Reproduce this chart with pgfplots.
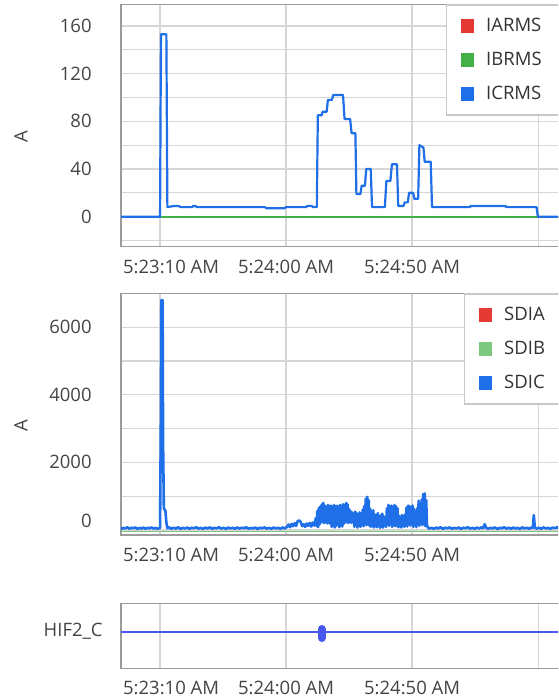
\documentclass[border=0pt]{standalone}
\usepackage{fontspec}
\setmainfont{Open Sans}
\usepackage{pgfplots}
\pgfplotsset{compat=1.18}
\definecolor{seriesblue}{RGB}{30,111,232}
\definecolor{seriesred}{RGB}{229,57,53}
\definecolor{seriesgreen}{RGB}{67,176,71}
\definecolor{hifblue}{RGB}{72,88,238}
\definecolor{gridgray}{RGB}{214,214,214}
\definecolor{framegray}{RGB}{155,155,155}
\definecolor{legendgray}{RGB}{200,200,200}
\definecolor{textgray}{RGB}{68,68,68}
\definecolor{textdark}{RGB}{51,51,51}
\newcommand{\fs}{\fontsize{9.25pt}{11pt}\selectfont}
\pgfplotsset{
  panel/.style={
    scale only axis, width=227.45pt, xmin=-15.5, xmax=165,
    xtick={0,50,100,150},
    xticklabels={\hspace*{11pt}5:23:10 AM,5:24:00 AM,5:24:50 AM,{}},
    xmajorgrids, major tick length=0pt, minor tick length=0pt,
    axis line style={draw=framegray,line width=0.75pt},
    grid style={draw=gridgray,line width=0.6pt},
    minor grid style={draw=gridgray,line width=0.6pt},
    tick label style={font=\fs, text=textgray},
    xticklabel style={anchor=center, yshift=-10pt, inner sep=0pt},
    yticklabel style={anchor=east, inner sep=0pt, xshift=-14.5pt},
    /pgf/number format/assume math mode=true,
    scaled ticks=false,
    every axis y label/.style={at={(rel axis cs:-0.22,0.454)}, anchor=center, rotate=90, font=\fs, text=textgray},
    legend cell align=left,
    legend image code/.code={
      \path[draw=none,fill=none] (0pt,-8.5pt) rectangle (0pt,8.5pt);
      \fill[##1,draw=none] (7pt,-3.4pt) rectangle (13.8pt,3.4pt);
    },
    every axis plot/.append style={line join=round},
  },
  legbox/.style={legend style={at={(rel axis cs:#1,1)}, anchor=north west,
    draw=legendgray, line width=0.6pt, fill=white, inner xsep=0pt, inner ysep=2pt,
    row sep=0pt, column sep=6pt, font=\fs, nodes={inner sep=0pt, text=textdark}}},
}
\begin{document}
\begin{tikzpicture}
\useasboundingbox (0,0) rectangle (279pt,-350pt);
\clip (0,0) rectangle (279pt,-350pt);
% ---------------- Panel 1 ----------------
\begin{axis}[panel, legbox=0.7145, at={(60.5pt,-2.25pt)}, anchor=north west, height=121.1pt,
  ymin=-25.2, ymax=178, ytick={0,40,80,120,160}, minor ytick={-20,20,60,100,140},
  ymajorgrids, yminorgrids, ylabel={A},
  legend entries={\makebox[60pt][l]{IARMS},\makebox[60pt][l]{IBRMS},\makebox[60pt][l]{ICRMS}}]
\addplot[seriesred, line width=1pt] coordinates {(-17,0)(170,0)};
\addplot[seriesgreen, line width=1pt] coordinates {(-17,0)(170,0)};
\addplot[seriesblue, line width=1.1pt] coordinates {
(-17,0)(0,0)(0.35,153)(2.5,153)(2.9,8)(5.6,9)(7.5,9)(8,8)(12.7,8)(13.2,9)(14.1,9)(14.6,8)
(41.7,8)(42.2,7)(49.4,7)(49.9,8)(57.9,8)(58.4,9)(60.2,9)(60.7,8)(62.2,8)(62.6,85)(64.1,85)
(64.5,88)(66.1,88)(66.6,98)(68.2,98)(68.7,102)(72.6,102)(73.2,82)(75.4,82)(76.0,70)(77.5,70)
(77.9,19)(79.5,19)(80.0,26)(81.3,26)(81.8,40)(83.6,40)(84.1,8)(89.2,8)(89.8,30)(91.4,30)
(92.0,44)(94.0,44)(94.5,9)(96.6,9)(97.1,12)(98.3,12)(98.8,20)(100.4,20)(100.9,15)(102.4,15)
(102.9,60)(104.5,58)(105.0,46)(107.4,46)(107.9,8)(122.9,8)(123.3,9)(137.0,9)(137.4,8)
(149.4,8)(149.9,0)(170,0)};
\end{axis}
% ---------------- Panel 2 ----------------
\begin{axis}[panel, legbox=0.754, at={(60.5pt,-146.65pt)}, anchor=north west, height=120.85pt,
  ymin=-150, ymax=7000, ytick={0,2000,4000,6000}, minor ytick={1000,3000,5000},
  yticklabels={\raisebox{1.2pt}[0pt][0pt]{0},2000,4000,6000},
  ymajorgrids, yminorgrids, ylabel={A},
  legend entries={\makebox[60pt][l]{SDIA},\makebox[60pt][l]{SDIB},\makebox[60pt][l]{SDIC}}]
\addplot[seriesred, line width=0.6pt] coordinates {(-17,-55)(170,-55)};
\addplot[seriesgreen!70!white, line width=0.6pt] coordinates {(-17,-55)(170,-55)};
\addplot[seriesblue, line width=1.3pt] coordinates {
(-17,40)(-16.2,70)(-15.4,30)(-14.6,60)(-13.8,45)(-13,80)(-12.2,35)(-11.4,65)(-10.6,50)(-9.8,75)
(-9,30)(-8.2,60)(-7.4,40)(-6.6,70)(-5.8,35)(-5,65)(-4.2,45)(-3.4,75)(-2.6,40)(-1.8,60)(-1,35)(-0.3,50)
(0,60)(0.3,3200)(0.5,6800)(1.0,6800)(1.2,2600)(1.5,620)(2.1,580)(2.5,220)(2.9,50)
(3.6,75)(4.5,35)(5.4,65)(6.3,40)(7.2,80)(8.1,30)(9,60)(9.9,45)(10.8,70)(11.7,35)(12.6,65)(13.5,50)
(14.4,80)(15.3,40)(16.2,60)(17.1,30)(18,70)(18.9,45)(19.8,75)(20.7,35)(21.6,60)(22.5,50)(23.4,80)
(24.3,40)(25.2,65)(26.1,30)(27,70)(27.9,45)(28.8,60)(29.7,35)(30.6,75)(31.5,40)(32.4,65)(33.3,50)
(34.2,80)(35.1,35)(36,60)(36.9,45)(37.8,70)(38.7,30)(39.6,65)(40.5,50)(41.4,75)(42.3,40)(43.2,60)
(44.1,35)(45,70)(45.9,45)(46.8,65)(47.7,30)(48.6,75)(49.5,45)
(50.4,90)(51,160)(51.6,80)(52.2,180)(52.8,110)(53.4,200)(54,120)(54.6,260)(55.2,280)(55.8,240)
(56.4,110)(57,170)(57.6,90)(58.2,190)(58.8,120)(59.4,210)(60,100)(60.6,220)(61.2,130)
(61.8,350)(62.1,120)(62.4,560)(62.7,80)(63.0,650)(63.3,160)(63.6,700)(63.9,220)(64.2,760)(64.5,240)
(64.8,800)(65.1,200)(65.4,720)(65.7,230)(66.0,680)(66.3,190)(66.6,740)(66.9,220)(67.2,700)(67.5,180)
(67.8,720)(68.1,90)(68.4,680)(68.7,140)(69.0,740)(69.3,70)(69.6,700)(69.9,120)(70.2,720)(70.5,200)
(70.8,660)(71.1,80)(71.4,740)(71.7,150)(72.0,700)(72.3,100)(72.6,760)(72.9,180)(73.2,720)(73.5,220)
(73.8,800)(74.1,230)(74.4,760)(74.7,200)(75.0,620)(75.3,240)(75.6,560)(75.9,210)(76.2,520)(76.5,230)
(76.8,480)(77.1,90)(77.4,540)(77.7,150)(78.0,500)(78.3,70)(78.6,460)(78.9,130)(79.2,520)(79.5,90)
(79.8,480)(80.1,160)(80.4,600)(80.7,110)(81.0,700)(81.3,180)(81.6,920)(81.9,140)(82.2,980)(82.5,200)
(82.8,880)(83.1,120)(83.4,620)(83.7,90)(84.0,520)(84.3,150)(84.6,580)(84.9,70)(85.2,460)(85.5,130)
(85.8,420)(86.1,80)(86.4,500)(86.7,160)(87.0,380)(87.3,60)(87.6,440)(87.9,110)(88.2,480)(88.5,70)
(88.8,400)(89.1,140)(89.4,360)(89.7,90)(90.0,640)(90.3,180)(90.6,740)(90.9,120)(91.2,700)(91.5,200)
(91.8,720)(92.1,90)(92.4,680)(92.7,150)(93.0,740)(93.3,110)(93.6,700)(93.9,170)(94.2,640)(94.5,80)
(94.8,420)(95.1,140)(95.4,360)(95.7,70)(96.0,440)(96.3,120)(96.6,400)(96.9,90)(97.2,460)(97.5,160)
(97.8,660)(98.1,100)(98.4,720)(98.7,180)(99.0,700)(99.3,130)(99.6,680)(99.9,200)(100.2,720)(100.5,90)
(100.8,620)(101.1,150)(101.4,540)(101.7,80)(102.0,640)(102.3,170)(102.6,860)(102.9,120)(103.2,780)
(103.5,200)(103.8,900)(104.1,140)(104.4,1060)(104.7,180)(105.0,1080)(105.3,110)(105.6,880)(105.9,150)
(106.2,80)(106.8,40)
(107.7,60)(108.6,35)(109.5,70)(110.4,45)(111.3,80)(112.2,30)(113.1,65)(114,50)(114.9,75)(115.8,35)
(116.7,60)(117.6,45)(118.5,70)(119.4,30)(120.3,65)(121.2,50)(122.1,80)(123,40)(123.9,60)(124.8,35)
(125.7,70)(126.6,45)(127.5,75)(128.2,50)(128.8,170)(129.4,60)(130.2,35)(131.1,65)(132,45)(132.9,75)
(133.8,30)(134.7,60)(135.6,50)(136.5,80)(137.4,40)(138.3,65)(139.2,35)(140.1,70)(141,45)(141.9,60)
(142.8,30)(143.7,75)(144.6,45)(145.5,65)(146.4,35)(147.3,70)(147.9,60)(148.3,440)(148.7,70)(149.4,40)
(150.3,65)(151.2,35)(152.1,75)(153,45)(153.9,60)(154.8,30)(155.7,70)(156.6,50)(157.5,80)(158.4,40)
(159.3,65)(160.2,35)(161.1,70)(162,45)(162.9,60)(163.8,35)(164.7,70)(165.6,50)};
\end{axis}
% ---------------- Panel 3 ----------------
\begin{axis}[panel, at={(60.5pt,-301.65pt)}, anchor=north west, height=32.5pt,
  ymin=-0.563, ymax=0.437, ytick={0}, yticklabels={HIF2\_C},
  yticklabel style={xshift=5.5pt}]
\addplot[hifblue, line width=1pt] coordinates {(-17,0)(170,0)};
\addplot[hifblue, line width=4pt, line cap=round] coordinates {(64.1,0.042)(64.1,-0.097)};
\end{axis}
\end{tikzpicture}
\end{document}
